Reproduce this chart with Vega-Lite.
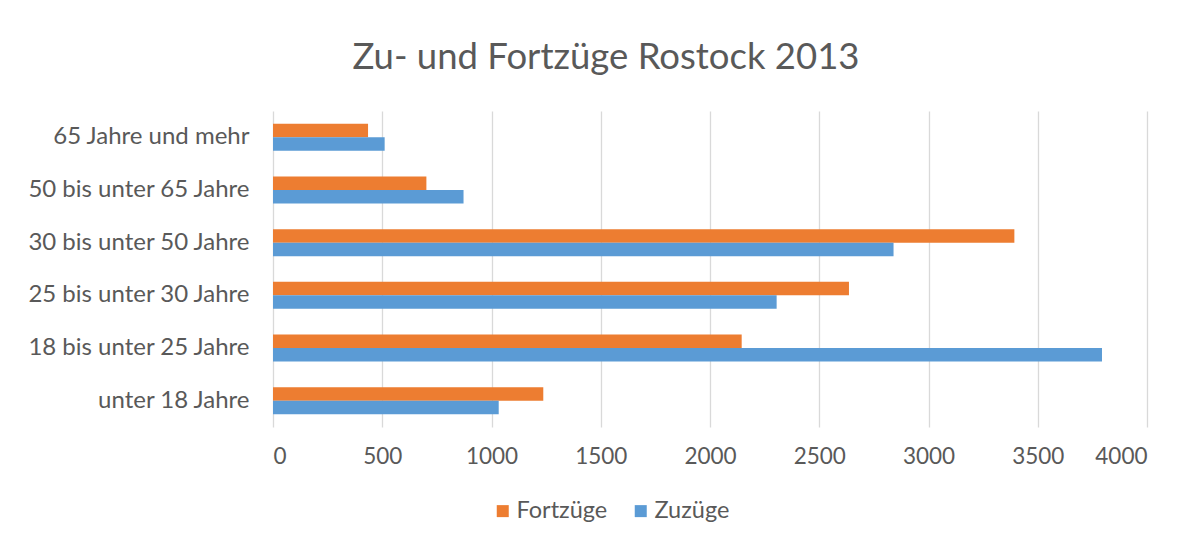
{
  "$schema": "https://vega.github.io/schema/vega-lite/v6.json",
  "autosize": {"type": "none"},
  "padding": {"left": 273, "top": 111, "right": 44, "bottom": 113},
  "width": 874,
  "height": 316,
  "background": "white",
  "title": {
    "text": "Zu- und Fortzüge Rostock 2013",
    "anchor": "middle",
    "dx": -104,
    "offset": 35,
    "font": "Lato",
    "fontSize": 36.5,
    "fontWeight": "normal",
    "color": "#595959"
  },
  "data": {
    "values": [
      {"Altersgruppe": "65 Jahre und mehr", "Art": "Fortzüge", "Anzahl": 435},
      {"Altersgruppe": "65 Jahre und mehr", "Art": "Zuzüge", "Anzahl": 511},
      {"Altersgruppe": "50 bis unter 65 Jahre", "Art": "Fortzüge", "Anzahl": 702},
      {"Altersgruppe": "50 bis unter 65 Jahre", "Art": "Zuzüge", "Anzahl": 872},
      {"Altersgruppe": "30 bis unter 50 Jahre", "Art": "Fortzüge", "Anzahl": 3393},
      {"Altersgruppe": "30 bis unter 50 Jahre", "Art": "Zuzüge", "Anzahl": 2840},
      {"Altersgruppe": "25 bis unter 30 Jahre", "Art": "Fortzüge", "Anzahl": 2636},
      {"Altersgruppe": "25 bis unter 30 Jahre", "Art": "Zuzüge", "Anzahl": 2305},
      {"Altersgruppe": "18 bis unter 25 Jahre", "Art": "Fortzüge", "Anzahl": 2145},
      {"Altersgruppe": "18 bis unter 25 Jahre", "Art": "Zuzüge", "Anzahl": 3794},
      {"Altersgruppe": "unter 18 Jahre", "Art": "Fortzüge", "Anzahl": 1237},
      {"Altersgruppe": "unter 18 Jahre", "Art": "Zuzüge", "Anzahl": 1033}
    ]
  },
  "mark": {"type": "bar"},
  "encoding": {
    "y": {
      "field": "Altersgruppe",
      "type": "nominal",
      "sort": ["65 Jahre und mehr", "50 bis unter 65 Jahre", "30 bis unter 50 Jahre", "25 bis unter 30 Jahre", "18 bis unter 25 Jahre", "unter 18 Jahre"],
      "scale": {"paddingInner": 0.488, "paddingOuter": 0.244},
      "axis": {
        "title": null,
        "ticks": false,
        "domain": false,
        "labelPadding": 24,
        "labelLimit": 400,
        "labelFont": "Lato",
        "labelFontSize": 24,
        "labelColor": "#595959"
      }
    },
    "yOffset": {
      "field": "Art",
      "type": "nominal",
      "sort": ["Fortzüge", "Zuzüge"],
      "scale": {"paddingInner": 0, "paddingOuter": 0}
    },
    "x": {
      "field": "Anzahl",
      "type": "quantitative",
      "scale": {"domain": [0, 4000], "nice": false},
      "axis": {
        "title": null,
        "values": [0, 500, 1000, 1500, 2000, 2500, 3000, 3500, 4000],
        "format": "d",
        "ticks": false,
        "domain": false,
        "grid": true,
        "gridColor": "#D9D9D9",
        "gridWidth": 1.3,
        "labelPadding": 18,
        "labelFont": "Lato",
        "labelFontSize": 22.5,
        "labelColor": "#595959"
      }
    },
    "color": {
      "field": "Art",
      "type": "nominal",
      "scale": {"domain": ["Fortzüge", "Zuzüge"], "range": ["#ED7D31", "#5B9BD5"]},
      "legend": {
        "title": null,
        "orient": "none",
        "direction": "horizontal",
        "legendX": 218,
        "legendY": 388,
        "symbolType": "square",
        "symbolSize": 144,
        "symbolStrokeWidth": 0,
        "columnPadding": 21,
        "labelFont": "Lato",
        "labelFontSize": 23.5,
        "labelColor": "#595959",
        "labelOffset": 2
      }
    }
  },
  "config": {
    "view": {"stroke": null}
  }
}
